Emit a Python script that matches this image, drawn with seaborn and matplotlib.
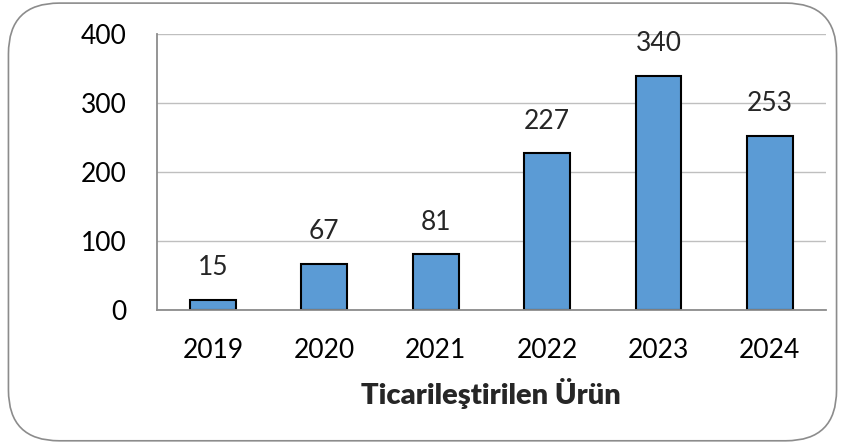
import matplotlib
matplotlib.use("Agg")
import matplotlib.pyplot as plt
from matplotlib.patches import FancyBboxPatch
import seaborn as sns
import pandas as pd

years = ["2019", "2020", "2021", "2022", "2023", "2024"]
products = [15, 67, 81, 227, 340, 253]
y_ticks = [0, 100, 200, 300, 400]
x_title = "Ticarileştirilen Ürün"

df = pd.DataFrame({"Yıl": years, "Ürün": products})

sns.set_theme(style="white")
plt.rcParams['font.family'] = ['Lato', 'DejaVu Sans']

fig = plt.figure(figsize=(8.45, 4.43), dpi=100)
ax = fig.add_axes([0.186, 0.300, 0.791, 0.623])

sns.barplot(data=df, x="Yıl", y="Ürün", ax=ax, color="#5B9BD5",
            saturation=1, width=0.41, edgecolor="black", linewidth=1.5)

ax.set_ylim(0, 400)
ax.set_yticks(y_ticks)
ax.yaxis.grid(True, color="#BFBFBF", linewidth=1)
ax.set_axisbelow(True)
for side in ["top", "right"]:
    ax.spines[side].set_visible(False)
for side in ["left", "bottom"]:
    ax.spines[side].set_color("#8C8C8C")
    ax.spines[side].set_linewidth(1.3)

ax.tick_params(axis="both", length=0, labelsize=19, colors="black")
ax.tick_params(axis="x", pad=20)
ax.tick_params(axis="y", pad=22)
ax.set_ylabel("")
ax.set_xlabel(x_title, fontsize=21, fontweight="heavy", labelpad=11)

ax.bar_label(ax.containers[0], fontsize=19, padding=14)

border = FancyBboxPatch((0.010, 0.005), 0.980, 0.988,
                        boxstyle="round,pad=0,rounding_size=0.06",
                        transform=fig.transFigure, fill=False,
                        edgecolor="#8C8C8C", linewidth=1.2,
                        mutation_aspect=845 / 443)
fig.patches.append(border)

fig.savefig("out.png", dpi=100)
